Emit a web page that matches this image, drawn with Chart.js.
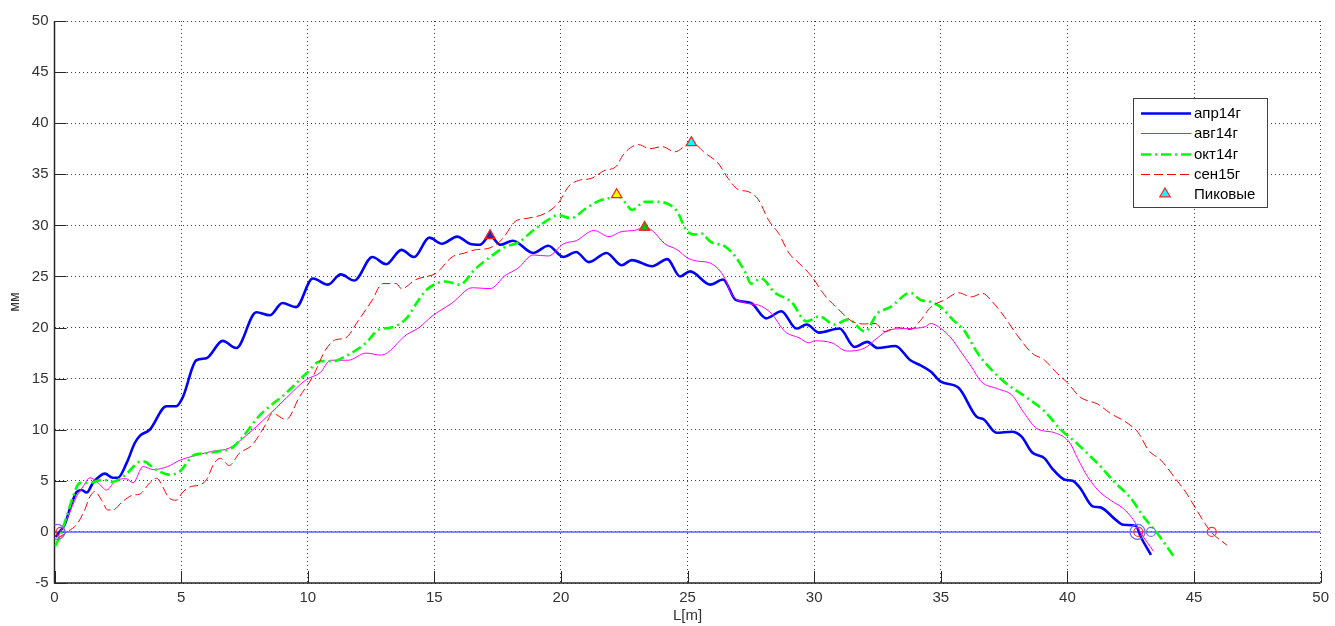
<!DOCTYPE html>
<html>
<head>
<meta charset="utf-8">
<script src="https://cdn.jsdelivr.net/npm/chart.js@4.4.1/dist/chart.umd.min.js"></script>
<style>
html, body { margin: 0; padding: 0; background: #fff; }
#wrap { width: 1335px; height: 626px; }
</style>
</head>
<body>
<div id="wrap"><canvas id="profileChart" width="1335" height="626"></canvas></div>
<script>
// данные профилей (L[m] -> мм)
const aprX = [0.05,0.2,0.4,0.68,0.87,1.07,1.27,1.52,1.99,2.3,2.5,2.85,3.17,3.37,3.76,4.42,4.81,5.07,5.6,6.0,6.64,7.18,7.97,8.5,9.0,9.54,10.2,10.8,11.3,11.84,12.55,13.1,13.7,14.2,14.8,15.3,15.9,16.4,16.8,17.2,17.6,18.1,18.9,19.5,20.1,20.6,21.1,21.8,22.4,22.8,23.6,24.2,24.7,25.1,25.9,26.4,26.9,27.5,28.1,28.7,29.3,29.7,30.2,31.0,31.6,32.1,32.5,33.2,33.8,34.2,34.6,35.0,35.7,36.4,36.7,37.2,37.8,38.2,38.6,39.1,39.4,39.9,40.2,40.5,41.0,41.3,41.9,42.2,42.7,42.9,43.3];
const aprY = [-0.5,0,0.7,2.8,3.9,4.1,3.85,4.8,5.7,5.3,5.3,6.75,8.7,9.4,10.0,12.3,12.3,13.2,16.8,17.0,18.7,18.0,21.5,21.2,22.4,22.0,24.8,24.2,25.2,24.6,26.9,26.2,27.6,26.9,28.8,28.2,28.9,28.2,28.1,29.0,28.1,28.5,27.3,28.0,26.9,27.4,26.4,27.3,26.1,26.6,26.0,26.7,25.0,25.5,24.2,24.7,22.7,22.4,20.9,21.6,19.9,20.3,19.5,19.9,18.1,18.6,18.0,18.2,16.8,16.3,15.7,14.7,14.1,11.3,11.0,9.7,9.8,9.3,7.8,7.2,6.2,5.1,5.0,4.3,2.5,2.4,1.2,0.7,0.6,-0.5,-2.25];

const avgX = [0.14,0.48,0.87,1.12,1.4,1.72,2.06,2.45,2.84,3.1,3.5,3.9,4.47,4.94,5.6,6.25,6.9,7.6,8.4,9.15,9.94,10.5,10.9,11.6,12.3,12.9,13.9,14.4,14.9,15.7,16.5,17.2,17.8,18.3,18.9,19.5,20.1,20.6,21.3,21.9,22.4,22.9,23.3,23.6,24.1,24.6,25.0,25.4,25.9,26.5,26.7,27.3,27.8,28.3,28.85,29.4,29.8,30.0,30.7,31.3,32.0,32.5,33.0,33.7,34.4,34.6,35.0,35.4,35.8,36.2,36.6,37.25,37.8,38.3,38.8,39.5,40.1,40.4,40.8,41.2,41.7,42.2,42.6,42.9,43.4];
const avgY = [-0.45,1.2,3.45,4.4,5.3,4.8,4.1,5.1,5.2,4.8,6.4,6.1,6.4,7.0,7.5,7.9,8.2,9.5,11.3,13.1,14.9,15.6,16.8,16.8,17.5,17.3,19.3,20.0,21.1,22.4,23.9,23.8,25.1,25.8,27.1,27.0,28.2,28.5,29.5,28.9,29.4,29.5,29.8,29.5,28.2,27.6,26.8,26.5,26.3,24.7,23.4,22.4,22.2,21.4,19.6,19.0,18.5,18.7,18.5,17.7,18.0,19.0,19.8,19.9,20.1,20.4,19.9,19.0,17.6,16.2,14.7,14.0,13.4,11.6,10.1,9.7,8.7,7.2,5.4,4.1,3.1,2.3,1.2,-0.1,-1.9];

const oktX = [0.02,0.2,0.48,0.73,1.0,1.4,1.9,2.3,2.85,3.3,3.5,4.0,4.55,4.94,5.5,6.0,6.5,7.0,7.4,8.1,9.15,9.94,10.5,11.0,11.5,12.3,12.8,13.3,13.9,14.3,14.7,15.45,16.0,16.6,17.2,17.8,18.3,18.9,19.4,19.9,20.4,21.0,21.5,22.0,22.2,22.55,22.8,23.3,23.85,24.3,24.6,24.96,25.3,25.55,25.9,26.5,26.9,27.3,27.5,27.9,28.45,29.1,29.7,30.2,30.8,31.35,32.0,32.5,33.0,33.8,34.2,34.6,35.0,35.5,35.9,36.45,36.95,37.6,38.3,39.1,39.7,40.4,40.9,41.2,41.85,42.5,43.0,43.6,44.2];
const oktY = [-1.4,-0.5,1.5,3.45,4.8,4.8,5.1,4.9,5.7,6.8,6.9,6.1,5.6,5.9,7.5,7.7,7.9,8.2,9.2,11.4,13.6,15.5,16.7,16.7,17.2,18.5,19.8,20.0,20.9,22.4,23.7,24.5,24.2,25.7,26.9,27.9,28.3,29.5,30.4,31.0,30.7,31.7,32.4,32.75,33.0,32.2,31.5,32.3,32.3,32.0,31.3,29.5,29.1,29.2,28.4,27.9,26.9,25.3,24.3,24.8,23.4,22.5,20.6,21.1,20.3,20.8,19.6,21.4,22.0,23.4,22.7,22.5,22.0,20.7,19.8,17.5,16.0,14.5,13.3,11.8,10.1,8.6,7.4,6.7,4.9,3.3,1.5,-0.3,-2.4];

const senX = [0.14,0.5,0.9,1.2,1.4,1.6,1.86,2.1,2.3,2.7,3.1,3.37,3.76,4.03,4.3,4.48,4.8,5.07,5.34,5.73,6.0,6.3,6.55,6.9,7.3,7.8,8.36,8.6,9.15,9.67,10.2,10.7,11.1,11.5,12.0,12.55,12.95,13.5,13.7,14.27,14.7,15.06,15.7,16.2,16.6,17.2,17.7,18.2,18.7,19.4,19.9,20.3,20.7,21.2,21.75,22.15,22.5,23.07,23.5,24.0,24.5,25.15,25.7,26.2,26.6,27.0,27.4,27.8,28.2,28.6,29.0,29.4,29.9,30.4,30.95,31.5,32.0,32.4,32.8,33.3,33.8,34.2,34.6,35.15,35.7,36.2,36.65,36.97,37.5,38.0,38.6,39.1,39.6,40.0,40.5,41.2,41.7,42.4,42.8,43.2,43.7,44.3,44.7,45.1,45.66,46.3];
const senY = [-0.6,0,0.8,2.2,3.45,3.95,3.1,2.15,2.15,3.0,3.6,3.7,4.8,5.25,4.3,3.45,3.1,3.9,4.4,4.6,5.1,6.7,7.2,6.5,7.7,8.5,10.6,11.6,11.0,13.2,15.2,17.8,18.8,19.0,20.7,22.7,24.3,24.3,23.8,24.7,25.0,25.3,26.9,27.3,27.6,27.8,28.7,30.4,30.7,31.2,32.2,33.8,34.4,34.6,35.4,35.7,37.05,37.9,37.5,37.7,37.2,38.1,37.05,36.1,34.6,33.5,33.3,32.5,30.5,29.2,27.3,26.3,25.0,23.2,21.8,20.6,20.35,20.4,19.6,20.0,19.8,20.7,22.0,22.7,23.4,23.0,23.35,22.7,21.1,19.3,17.5,16.8,15.5,14.6,13.2,12.5,11.6,10.6,9.7,8.0,7.0,5.1,3.8,2.15,0.03,-1.3];

// пиковые точки
const peakX = [17.2, 22.2, 23.3, 25.15];
const peakY = [29.0, 33.0, 29.8, 38.1];

// пересечения с нулём
const zeroBigX = [0.11, 42.77];
const zeroBlueX = [43.3];
const zeroRedX = [0.24, 42.8, 45.7];

const seriesLabels = ['апр14г', 'авг14г', 'окт14г', 'сен15г', 'Пиковые'];
const axisTicks = { xMin: 0, xMax: 50, yMin: -5, yMax: 50, step: 5 };

const FONT = "'Liberation Sans', Arial, sans-serif";

function toPoints(xs, ys) {
    return xs.map((x, i) => ({ x: x, y: ys[i] }));
}
function onZero(xs) {
    return xs.map(x => ({ x: x, y: 0 }));
}

// оси и внутренние засечки как в MATLAB
const axesPlugin = {
    id: 'axesPlugin',
    beforeDatasetsDraw(chart) {
        const ctx = chart.ctx;
        const a = chart.chartArea;
        const xs = chart.scales.x, ys = chart.scales.y;
        ctx.save();
        ctx.strokeStyle = '#262626';
        ctx.lineWidth = 1;
        ctx.beginPath();
        xs.ticks.forEach(t => {
            const px = Math.round(xs.getPixelForValue(t.value)) + 0.5;
            ctx.moveTo(px, a.bottom);
            ctx.lineTo(px, a.bottom - 12);
        });
        ys.ticks.forEach(t => {
            const py = Math.round(ys.getPixelForValue(t.value)) + 0.5;
            ctx.moveTo(a.left, py);
            ctx.lineTo(a.left + 12, py);
        });
        ctx.stroke();
        ctx.lineWidth = 1.5;
        ctx.beginPath();
        ctx.moveTo(a.left, a.top);
        ctx.lineTo(a.left, a.bottom);
        ctx.lineTo(a.right, a.bottom);
        ctx.stroke();
        ctx.restore();
    }
};

// легенда внутри поля графика
const boxLegend = {
    id: 'boxLegend',
    afterDraw(chart) {
        const ctx = chart.ctx;
        const left = 1133, top = 98, w = 134, h = 109;
        ctx.save();
        ctx.fillStyle = '#fff';
        ctx.fillRect(left, top, w, h);
        ctx.strokeStyle = '#404040';
        ctx.lineWidth = 1;
        ctx.strokeRect(left + 0.5, top + 0.5, w, h);
        ctx.font = '15px ' + FONT;
        ctx.textBaseline = 'middle';
        ctx.textAlign = 'left';
        const rows = [0, 1, 2, 3, 4];
        rows.forEach(i => {
            const ds = chart.data.datasets[i];
            const y = Math.round(113 + i * 20.3) + 0.5;
            if (i < 4) {
                ctx.strokeStyle = ds.borderColor;
                ctx.lineWidth = ds.borderWidth;
                ctx.setLineDash(ds.borderDash || []);
                ctx.beginPath();
                ctx.moveTo(1141, y);
                ctx.lineTo(1191, y);
                ctx.stroke();
                ctx.setLineDash([]);
            } else {
                const cx = 1165, cy = y - 1, r = 5.5;
                ctx.beginPath();
                ctx.moveTo(cx, cy - r);
                ctx.lineTo(cx + r * 0.95, cy + r * 0.6);
                ctx.lineTo(cx - r * 0.95, cy + r * 0.6);
                ctx.closePath();
                ctx.fillStyle = '#00ffff';
                ctx.fill();
                ctx.strokeStyle = '#ff2020';
                ctx.lineWidth = 1.2;
                ctx.stroke();
            }
            ctx.fillStyle = '#000';
            ctx.fillText(ds.label, 1194, y);
        });
        ctx.restore();
    }
};

const lineBase = {
    type: 'line',
    showLine: true,
    pointRadius: 0,
    fill: false,
    cubicInterpolationMode: 'monotone'
};

new Chart(document.getElementById('profileChart'), {
    type: 'scatter',
    data: {
        datasets: [
            Object.assign({}, lineBase, {
                label: seriesLabels[0],
                data: toPoints(aprX, aprY),
                borderColor: '#0000ff',
                borderWidth: 2.6,
                order: 4
            }),
            Object.assign({}, lineBase, {
                label: seriesLabels[1],
                data: toPoints(avgX, avgY),
                borderColor: '#ff00ff',
                borderWidth: 1,
                order: 3
            }),
            Object.assign({}, lineBase, {
                label: seriesLabels[2],
                data: toPoints(oktX, oktY),
                borderColor: '#00ff00',
                borderWidth: 2.6,
                borderDash: [10, 4, 2, 4],
                order: 2
            }),
            Object.assign({}, lineBase, {
                label: seriesLabels[3],
                data: toPoints(senX, senY),
                borderColor: '#ff0000',
                borderWidth: 1,
                borderDash: [9, 4],
                order: 1
            }),
            {
                label: seriesLabels[4],
                data: toPoints(peakX, peakY),
                showLine: false,
                pointStyle: 'triangle',
                pointRadius: 6,
                pointBackgroundColor: ['#2a2aa0', '#ffff00', '#00c000', '#00ffff'],
                pointBorderColor: '#ff2020',
                pointBorderWidth: 1.2,
                order: 0
            },
            {
                label: 'zero',
                data: [{ x: axisTicks.xMin, y: 0 }, { x: axisTicks.xMax, y: 0 }],
                showLine: true,
                pointRadius: 0,
                borderColor: '#5c5cff',
                borderWidth: 1.5,
                order: 9
            },
            {
                label: 'zeroBig',
                data: onZero(zeroBigX),
                showLine: false,
                pointRadius: 7.5,
                pointBackgroundColor: 'rgba(0,0,0,0)',
                pointBorderColor: '#6a6aff',
                pointBorderWidth: 1.2,
                order: 0
            },
            {
                label: 'zeroBlue',
                data: onZero(zeroBlueX),
                showLine: false,
                pointRadius: 4.5,
                pointBackgroundColor: 'rgba(0,0,0,0)',
                pointBorderColor: '#6a6aff',
                pointBorderWidth: 1.2,
                order: 0
            },
            {
                label: 'zeroRed',
                data: onZero(zeroRedX),
                showLine: false,
                pointRadius: 4.5,
                pointBackgroundColor: 'rgba(0,0,0,0)',
                pointBorderColor: '#ff3030',
                pointBorderWidth: 1.2,
                order: 0
            }
        ]
    },
    options: {
        responsive: false,
        animation: false,
        events: [],
        layout: { padding: { top: 21, right: 12, left: 0, bottom: 0 } },
        plugins: {
            legend: { display: false },
            tooltip: { enabled: false }
        },
        scales: {
            x: {
                type: 'linear',
                min: axisTicks.xMin,
                max: axisTicks.xMax,
                afterFit: s => { s.height = 43; },
                ticks: {
                    stepSize: axisTicks.step,
                    padding: 6,
                    color: '#333',
                    font: { family: FONT, size: 15 }
                },
                grid: { color: '#404040', lineWidth: 1, drawTicks: false },
                border: { display: false, dash: [1, 3] },
                title: {
                    display: true,
                    text: 'L[m]',
                    color: '#333',
                    padding: { top: 0, bottom: 1 },
                    font: { family: FONT, size: 15 }
                }
            },
            y: {
                type: 'linear',
                min: axisTicks.yMin,
                max: axisTicks.yMax,
                afterFit: s => { s.width = 54.5; },
                ticks: {
                    stepSize: axisTicks.step,
                    padding: 6,
                    color: '#333',
                    font: { family: FONT, size: 15 }
                },
                grid: { color: '#404040', lineWidth: 1, drawTicks: false },
                border: { display: false, dash: [1, 3] },
                title: {
                    display: true,
                    text: 'мм',
                    color: '#333',
                    padding: { top: 7, bottom: 0 },
                    font: { family: FONT, size: 14 }
                }
            }
        }
    },
    plugins: [axesPlugin, boxLegend]
});
</script>
</body>
</html>
